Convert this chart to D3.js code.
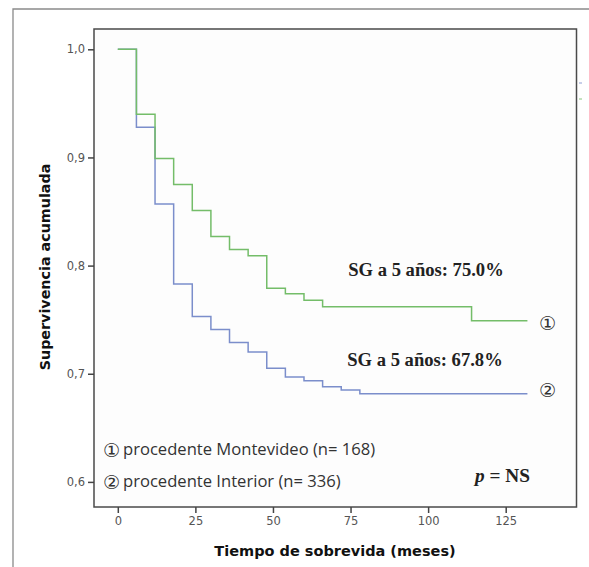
<!DOCTYPE html>
<html>
<head>
<meta charset="utf-8">
<script src="https://cdn.jsdelivr.net/npm/d3@7"></script>
<style>
  html, body { margin: 0; padding: 0; background: #ffffff; }
  svg { display: block; }
</style>
</head>
<body>
<svg id="chart" width="589" height="567"></svg>
<script>
// ---- data ----
const timesMontevideo = [0, 6, 12, 18, 24, 30, 36, 42, 48, 54, 60, 66, 114];
const survMontevideo  = [1.0, 0.940, 0.899, 0.875, 0.851, 0.827, 0.815, 0.809, 0.779, 0.774, 0.768, 0.762, 0.749];
const endMontevideo = 132;

const timesInterior = [0, 6, 12, 18, 24, 30, 36, 42, 48, 54, 60, 66, 72, 78];
const survInterior  = [1.0, 0.928, 0.857, 0.783, 0.753, 0.741, 0.729, 0.720, 0.705, 0.697, 0.6935, 0.688, 0.685, 0.6815];
const endInterior = 132;

const xTicks = [0, 25, 50, 75, 100, 125];
const yTicks = [0.6, 0.7, 0.8, 0.9, 1.0];

const seriesLabels = ["SG a 5 años: 75.0%", "SG a 5 años: 67.8%"];
const seriesMarks = ["\u2460", "\u2461"];
const legendLabels = ["procedente Montevideo (n= 168)", "procedente Interior (n= 336)"];
const colors = ["#74bd69", "#7b8ecb"];

// ---- layout ----
const svg = d3.select("#chart");
const box = { left: 94, right: 576.5, top: 29, bottom: 507 };

const x = d3.scaleLinear().domain([0, 125]).range([117.8, 505.7]);
const y = d3.scaleLinear().domain([0.6, 1.0]).range([481.9, 49.3]);

// outer frame
svg.append("path")
  .attr("d", `M13,580 L13,9 L600,9`)
  .attr("fill", "none").attr("stroke", "#8a8a8a").attr("stroke-width", 1.3);

// plot background + frame
svg.append("rect")
  .attr("x", box.left).attr("y", box.top)
  .attr("width", box.right - box.left).attr("height", box.bottom - box.top)
  .attr("fill", "#fdfdfd").attr("stroke", "#4a4a4a").attr("stroke-width", 1.5);

// axes
const xAxis = d3.axisBottom(x).tickValues(xTicks).tickSize(6).tickSizeOuter(0).tickPadding(4);
const gx = svg.append("g").attr("transform", `translate(0,${box.bottom})`).call(xAxis);
gx.select(".domain").remove();
gx.selectAll("line").attr("stroke", "#444").attr("stroke-width", 1.5);
gx.selectAll("text").attr("font-family", "DejaVu Sans").attr("font-size", 11.5).attr("fill", "#555");

const yAxis = d3.axisLeft(y).tickValues(yTicks).tickSize(6).tickSizeOuter(0).tickPadding(3)
  .tickFormat(d => d3.format(".1f")(d).replace(".", ","));
const gy = svg.append("g").attr("transform", `translate(${box.left},0)`).call(yAxis);
gy.select(".domain").remove();
gy.selectAll("line").attr("stroke", "#444").attr("stroke-width", 1.5);
gy.selectAll("text").attr("font-family", "DejaVu Sans").attr("font-size", 11.5).attr("fill", "#555");

// curves
const line = d3.line().x(d => x(d[0])).y(d => y(d[1])).curve(d3.curveStepAfter);
function pts(times, surv, end) {
  const p = times.map((t, i) => [t, surv[i]]);
  p.push([end, surv[surv.length - 1]]);
  return p;
}
const curves = [
  pts(timesInterior, survInterior, endInterior),
  pts(timesMontevideo, survMontevideo, endMontevideo)
];
const curveColors = [colors[1], colors[0]];
curves.forEach((c, i) => {
  svg.append("path").attr("d", line(c))
    .attr("fill", "none").attr("stroke", curveColors[i]).attr("stroke-width", 1.5);
});

// small marks at right edge
svg.append("line").attr("x1", 579).attr("x2", 582).attr("y1", 83).attr("y2", 83)
  .attr("stroke", colors[1]).attr("stroke-width", 1.2).attr("opacity", 0.7);
svg.append("line").attr("x1", 579).attr("x2", 582).attr("y1", 99).attr("y2", 99)
  .attr("stroke", colors[0]).attr("stroke-width", 1.2).attr("opacity", 0.7);

// SG annotations
const sgPos = [[426, 275.5], [425, 365.5]];
seriesLabels.forEach((t, i) => {
  svg.append("text").attr("x", sgPos[i][0]).attr("y", sgPos[i][1])
    .attr("text-anchor", "middle")
    .attr("font-family", "Liberation Serif").attr("font-weight", "bold").attr("font-size", 18.6)
    .attr("fill", "#222").text(t);
});

// circled marks on right
const markY = [322.7, 390];
seriesMarks.forEach((m, i) => {
  svg.append("text").attr("x", 547.5).attr("y", markY[i])
    .attr("text-anchor", "middle").attr("dominant-baseline", "central")
    .attr("font-family", "DejaVu Sans").attr("font-size", 19)
    .attr("fill", "#333").text(m);
});

// legend
const legY = [455, 487];
legendLabels.forEach((t, i) => {
  svg.append("text").attr("x", 111.5).attr("y", legY[i] - 5.5)
    .attr("text-anchor", "middle").attr("dominant-baseline", "central")
    .attr("font-family", "DejaVu Sans").attr("font-size", 19)
    .attr("fill", "#333").text(seriesMarks[i]);
  svg.append("text").attr("x", 123).attr("y", legY[i])
    .attr("font-family", "Open Sans").attr("font-size", 16.6)
    .attr("fill", "#333").text(t);
});

// p = NS
const pt = svg.append("text").attr("x", 475).attr("y", 482)
  .attr("font-family", "Liberation Serif").attr("font-size", 19.3).attr("fill", "#222");
pt.append("tspan").attr("font-style", "italic").attr("font-weight", "bold").text("p");
pt.append("tspan").attr("font-weight", "bold").text(" = NS");

// axis titles
svg.append("text").attr("x", 335).attr("y", 556)
  .attr("text-anchor", "middle")
  .attr("font-family", "DejaVu Sans").attr("font-weight", "bold").attr("font-size", 14.5)
  .attr("fill", "#111").text("Tiempo de sobrevida (meses)");

svg.append("text")
  .attr("transform", "translate(50,267) rotate(-90)")
  .attr("text-anchor", "middle")
  .attr("font-family", "DejaVu Sans").attr("font-weight", "bold").attr("font-size", 14.3)
  .attr("fill", "#111").text("Supervivencia acumulada");
</script>
</body>
</html>
